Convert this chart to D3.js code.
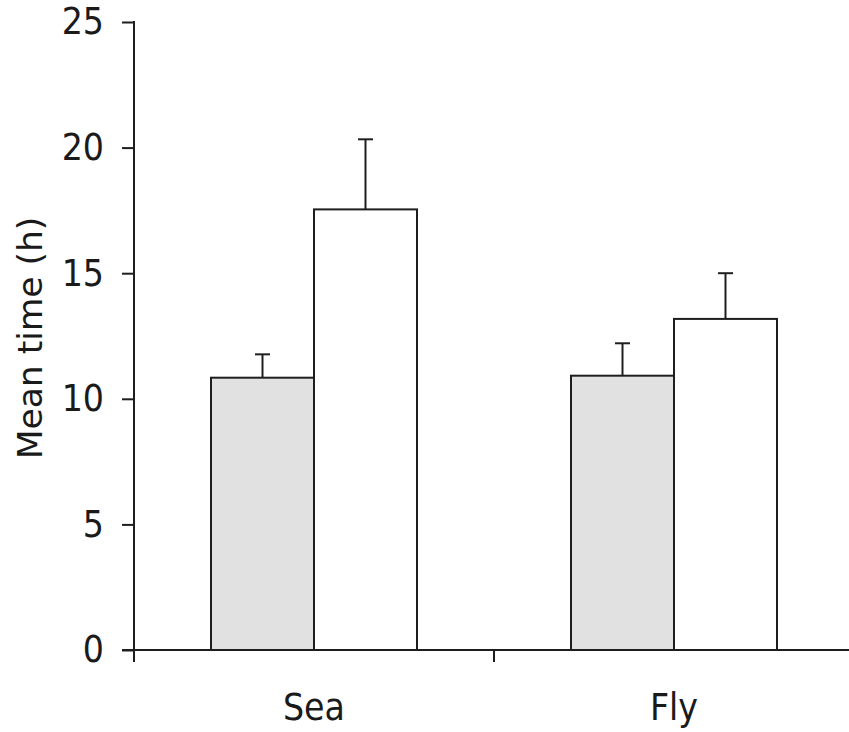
<!DOCTYPE html>
<html>
<head>
<meta charset="utf-8">
<script src="https://cdn.jsdelivr.net/npm/d3@7"></script>
<style>
  html, body { margin: 0; padding: 0; background: #fff; }
  svg { display: block; }
  text { font-family: "DejaVu Sans Condensed", "DejaVu Sans", sans-serif; font-stretch: condensed; fill: #1a1a1a; }
</style>
</head>
<body>
<svg id="chart" width="849" height="732"></svg>
<script>
const categories = ["Sea", "Fly"];
const series = ["A", "B"];
const meanA = [10.84, 10.92];
const errA = [0.93, 1.29];
const meanB = [17.54, 13.18];
const errB = [2.79, 1.82];
const yTicks = [0, 5, 10, 15, 20, 25];
const yLabel = "Mean time (h)";

const fills = { A: "#e1e1e1", B: "#ffffff" };
const ink = "#1e1e1e";

const data = [];
categories.forEach((c, i) => {
  data.push({ cat: c, ser: "A", v: meanA[i], e: errA[i] });
  data.push({ cat: c, ser: "B", v: meanB[i], e: errB[i] });
});

const svg = d3.select("#chart");
const x0 = d3.scaleBand().domain(categories).range([134, 854]).paddingInner(0).paddingOuter(0);
const y = d3.scaleLinear().domain([0, 25]).range([650, 22]);
const groupW = 206;
const x1 = d3.scaleBand().domain(series).range([0, groupW]).padding(0);
const barX = d => x0(d.cat) + x0.bandwidth() / 2 - groupW / 2 + x1(d.ser);

// bars
svg.append("g").selectAll("rect").data(data).join("rect")
  .attr("x", barX)
  .attr("y", d => y(d.v))
  .attr("width", x1.bandwidth())
  .attr("height", d => y(0) - y(d.v))
  .attr("fill", d => fills[d.ser])
  .attr("stroke", ink)
  .attr("stroke-width", 2);

// error bars (upper only)
const eg = svg.append("g").attr("stroke", ink).attr("stroke-width", 2);
eg.selectAll("line.v").data(data).join("line").attr("class", "v")
  .attr("x1", d => barX(d) + x1.bandwidth() / 2)
  .attr("x2", d => barX(d) + x1.bandwidth() / 2)
  .attr("y1", d => y(d.v))
  .attr("y2", d => y(d.v + d.e));
eg.selectAll("line.c").data(data).join("line").attr("class", "c")
  .attr("x1", d => barX(d) + x1.bandwidth() / 2 - 7.5)
  .attr("x2", d => barX(d) + x1.bandwidth() / 2 + 7.5)
  .attr("y1", d => y(d.v + d.e))
  .attr("y2", d => y(d.v + d.e));

// y axis
const yAxis = d3.axisLeft(y).tickValues(yTicks).tickSize(12).tickPadding(18);
const gy = svg.append("g").attr("transform", "translate(134,0)").call(yAxis);
gy.select(".domain").remove();
gy.selectAll(".tick line").attr("stroke", ink).attr("stroke-width", 2);
gy.selectAll(".tick text").attr("font-size", 37).attr("fill", ink)
  .style("font-family", '"DejaVu Sans Condensed", "DejaVu Sans", sans-serif');
gy.append("line").attr("x1", 0).attr("x2", 0).attr("y1", y(25) - 1).attr("y2", y(0) + 12)
  .attr("stroke", ink).attr("stroke-width", 2);

// x axis
const gx = svg.append("g");
gx.append("line").attr("x1", 122).attr("x2", 849).attr("y1", y(0)).attr("y2", y(0))
  .attr("stroke", ink).attr("stroke-width", 2);
const bounds = categories.map(c => x0(c)).concat([x0.range()[1]]).slice(1);
gx.selectAll("line.t").data(bounds).join("line").attr("class", "t")
  .attr("x1", d => d).attr("x2", d => d)
  .attr("y1", y(0)).attr("y2", y(0) + 12)
  .attr("stroke", ink).attr("stroke-width", 2);
gx.selectAll("text").data(categories).join("text")
  .attr("x", c => x0(c) + x0.bandwidth() / 2)
  .attr("y", 720)
  .attr("text-anchor", "middle")
  .attr("font-size", 37)
  .text(c => c);

// y label
svg.append("text")
  .attr("transform", "translate(42,338) rotate(-90)")
  .attr("text-anchor", "middle")
  .attr("font-size", 34.5)
  .style("font-family", '"DejaVu Sans", sans-serif')
  .style("font-stretch", "normal")
  .text(yLabel);
</script>
</body>
</html>
